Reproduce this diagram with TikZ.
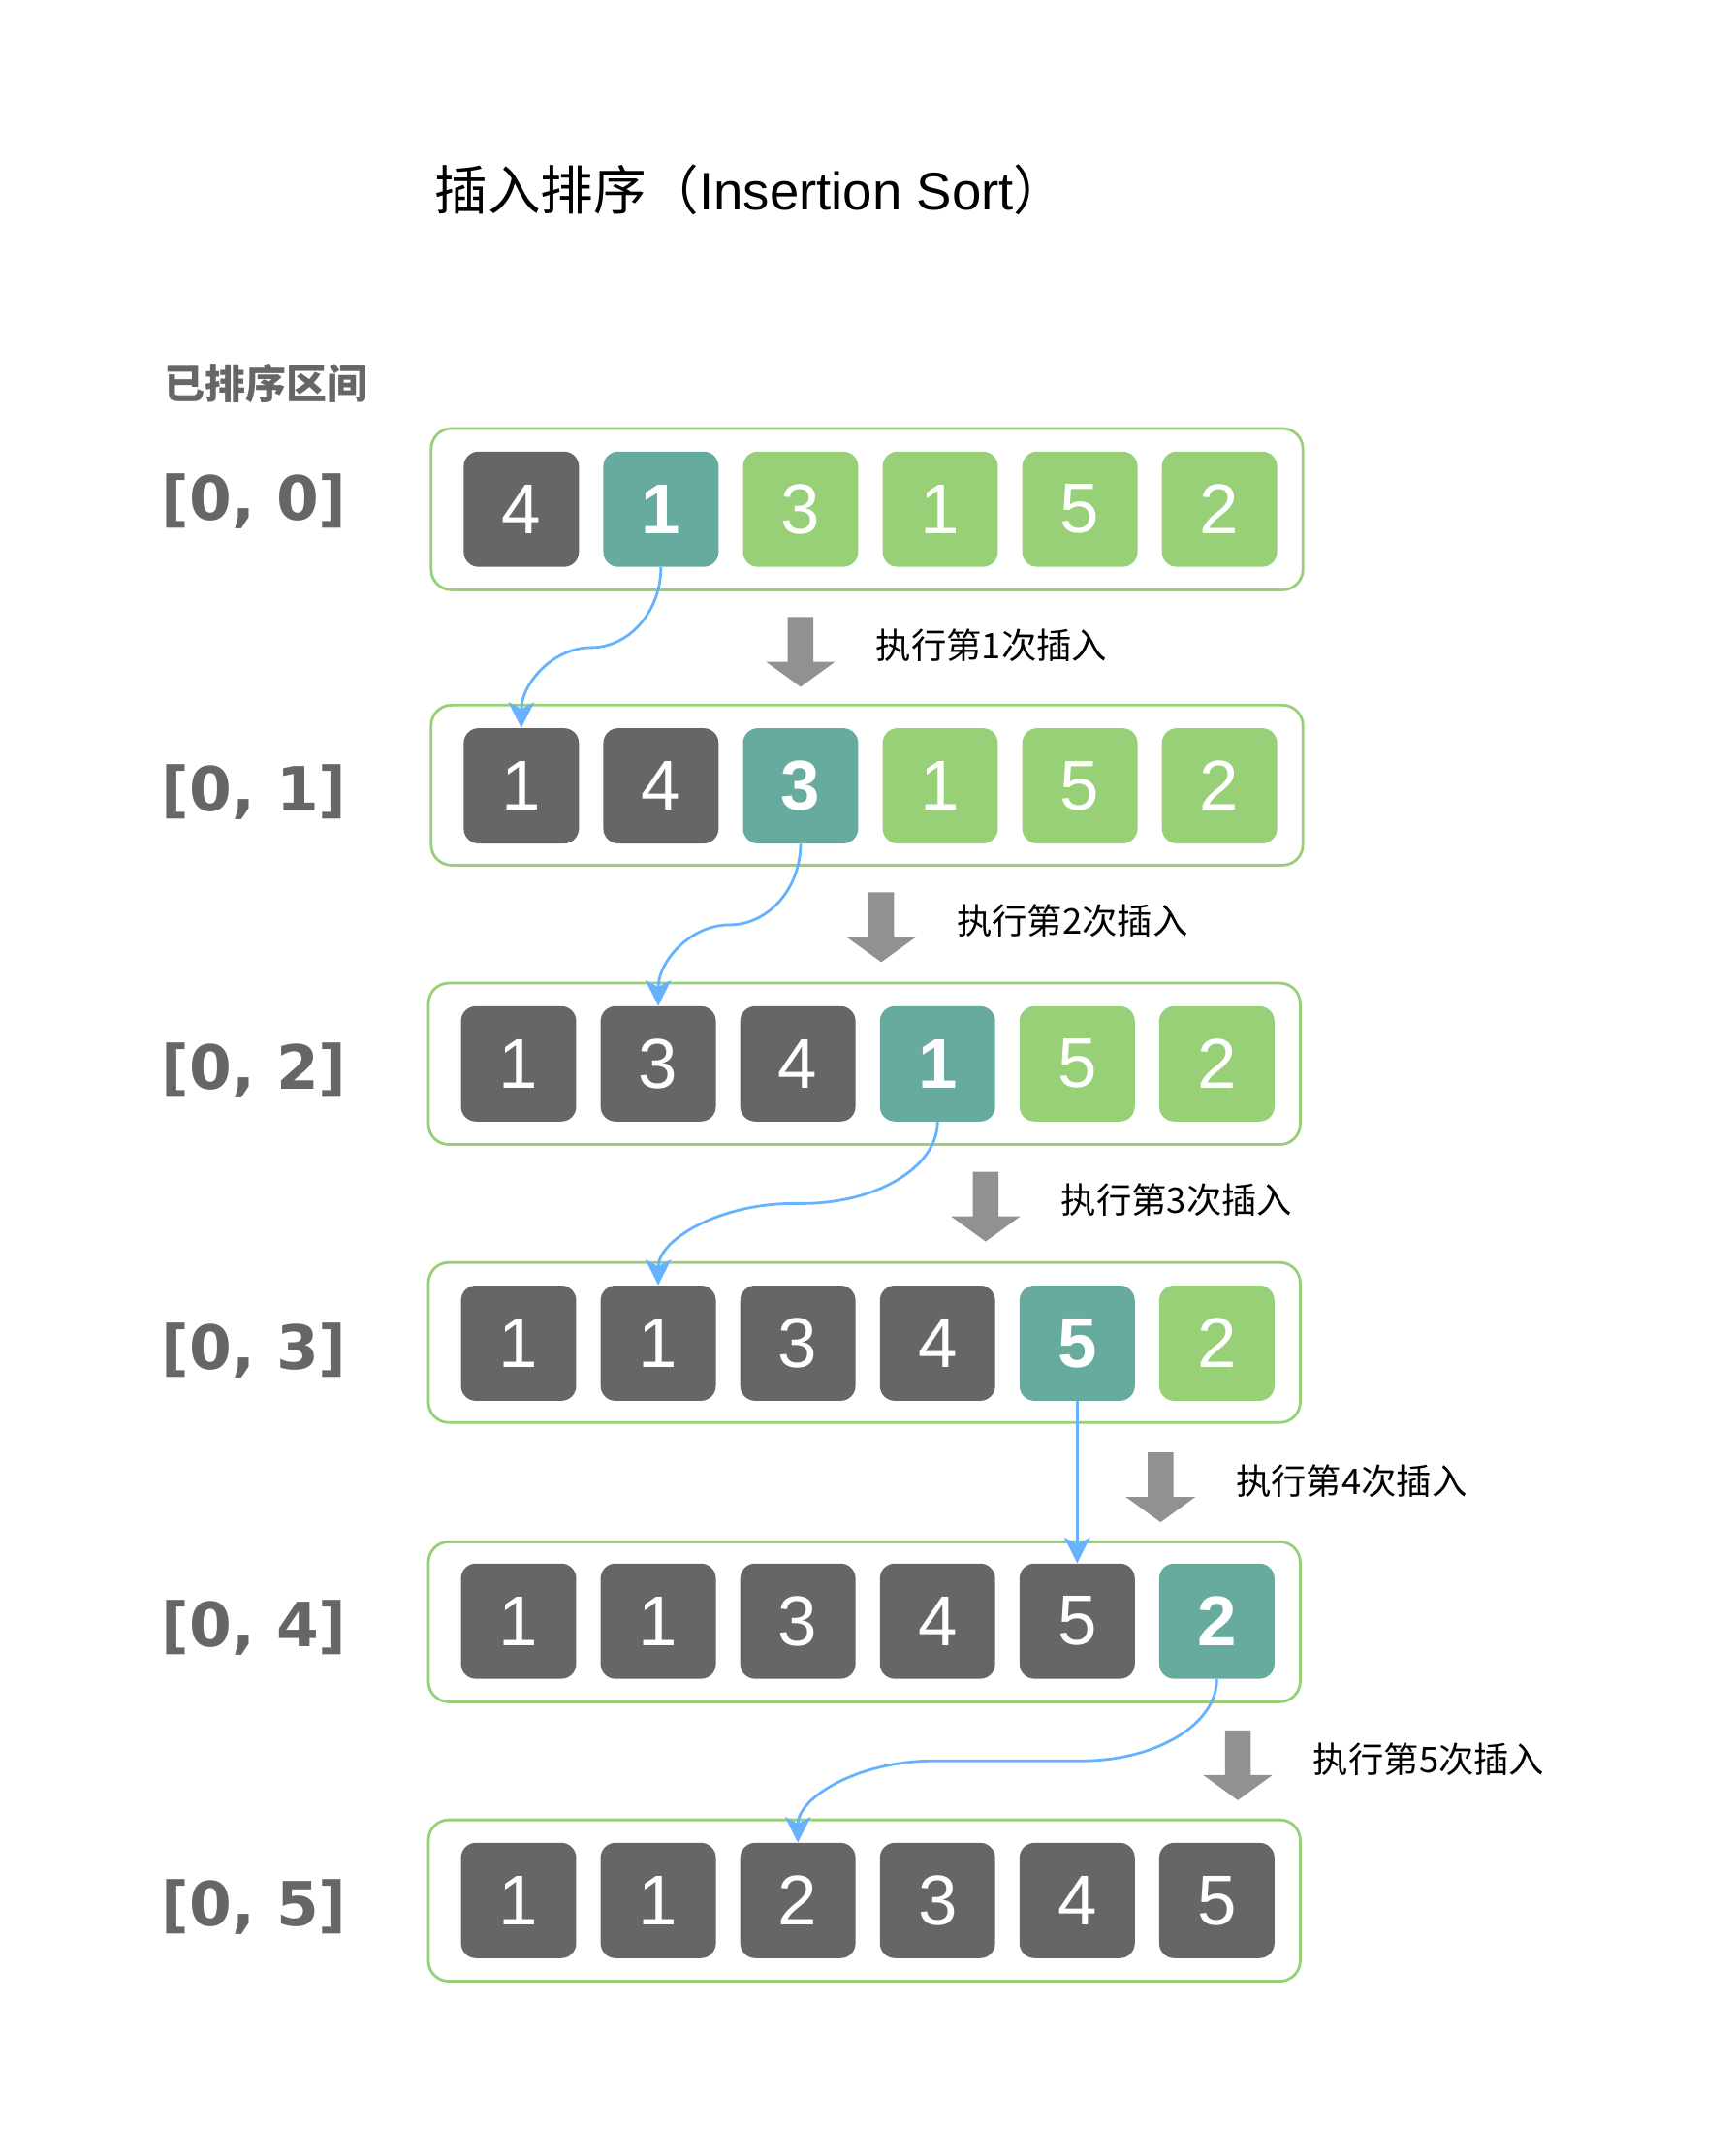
\documentclass[tikz,border=0pt]{standalone}
\usepackage{fontspec}
\setmainfont{Liberation Sans}
\newfontfamily\cjk{Noto Sans CJK SC}
\newfontfamily\dv{DejaVu Sans}
\usetikzlibrary{arrows.meta}
\definecolor{cdark}{HTML}{666666}
\definecolor{cteal}{HTML}{67AB9F}
\definecolor{cgreen}{HTML}{97D077}
\definecolor{cblue}{HTML}{66B2FF}
\definecolor{cgray}{HTML}{919191}
\definecolor{clabel}{HTML}{666666}
\tikzset{
  cell/.style={minimum width=85pt, minimum height=85pt, inner sep=0pt, rounded corners=11pt, text=white, font=\fontsize{52}{52}\selectfont},
  dk/.style={cell, fill=cdark},
  tl/.style={cell, fill=cteal, font=\fontsize{52}{52}\selectfont\bfseries},
  gr/.style={cell, fill=cgreen},
  frame/.style={draw=cgreen, line width=2pt, rounded corners=15pt, inner sep=0pt, minimum width=643pt},
  rowlbl/.style={anchor=base west, inner sep=0pt, text=clabel, font=\dv\bfseries\fontsize{45}{45}\selectfont},
  steplbl/.style={anchor=west, inner sep=0pt, font=\cjk\fontsize{26}{26}\selectfont},
  link/.style={draw=cblue, line width=2pt, -{Stealth[length=19pt,width=19pt,inset=5pt]}},
  garrow/.pic={\fill[cgray] (-9.5,0) -- (9.5,0) -- (9.5,33) -- (25.5,33) -- (0,51.5) -- (-25.5,33) -- (-9.5,33) -- cycle;}
}
\begin{document}
\begin{tikzpicture}[x=1pt,y=-1pt]
\useasboundingbox (0,0) rectangle (1280,1570);

% title and header
\node[anchor=base west, inner sep=0pt, font=\fontsize{39}{39}\selectfont] (title) at (320.5,155) {{\cjk 插入排序（}Insertion Sort{\cjk ）}};
\node[anchor=base west, inner sep=0pt, text=clabel, font=\cjk\bfseries\fontsize{30}{30}\selectfont] (sorted) at (121,294) {已排序区间};

% containers
\node[frame, minimum height=119pt] (c0) at (639.5,375.5) {};
\node[frame, minimum height=118pt] (c1) at (639.5,579) {};
\node[frame, minimum height=119pt] (c2) at (637.5,784.5) {};
\node[frame, minimum height=118pt] (c3) at (637.5,990) {};
\node[frame, minimum height=118pt] (c4) at (637.5,1196) {};
\node[frame, minimum height=119pt] (c5) at (637.5,1401.5) {};

% row labels
\node[rowlbl] (l0) at (119,383.5) {[0, 0]};
\node[rowlbl] (l1) at (119,598) {[0, 1]};
\node[rowlbl] (l2) at (119,803.5) {[0, 2]};
\node[rowlbl] (l3) at (119,1009.5) {[0, 3]};
\node[rowlbl] (l4) at (119,1214.5) {[0, 4]};
\node[rowlbl] (l5) at (119,1420.5) {[0, 5]};

% row 0
\node[dk] (b00) at (384.5,375.5) {4};
\node[tl] (b01) at (487.5,375.5) {1};
\node[gr] (b02) at (590.5,375.5) {3};
\node[gr] (b03) at (693.5,375.5) {1};
\node[gr] (b04) at (796.5,375.5) {5};
\node[gr] (b05) at (899.5,375.5) {2};
% row 1
\node[dk] (b10) at (384.5,579.5) {1};
\node[dk] (b11) at (487.5,579.5) {4};
\node[tl] (b12) at (590.5,579.5) {3};
\node[gr] (b13) at (693.5,579.5) {1};
\node[gr] (b14) at (796.5,579.5) {5};
\node[gr] (b15) at (899.5,579.5) {2};
% row 2
\node[dk] (b20) at (382.5,784.5) {1};
\node[dk] (b21) at (485.5,784.5) {3};
\node[dk] (b22) at (588.5,784.5) {4};
\node[tl] (b23) at (691.5,784.5) {1};
\node[gr] (b24) at (794.5,784.5) {5};
\node[gr] (b25) at (897.5,784.5) {2};
% row 3
\node[dk] (b30) at (382.5,990.5) {1};
\node[dk] (b31) at (485.5,990.5) {1};
\node[dk] (b32) at (588.5,990.5) {3};
\node[dk] (b33) at (691.5,990.5) {4};
\node[tl] (b34) at (794.5,990.5) {5};
\node[gr] (b35) at (897.5,990.5) {2};
% row 4
\node[dk] (b40) at (382.5,1195.5) {1};
\node[dk] (b41) at (485.5,1195.5) {1};
\node[dk] (b42) at (588.5,1195.5) {3};
\node[dk] (b43) at (691.5,1195.5) {4};
\node[dk] (b44) at (794.5,1195.5) {5};
\node[tl] (b45) at (897.5,1195.5) {2};
% row 5
\node[dk] (b50) at (382.5,1401.5) {1};
\node[dk] (b51) at (485.5,1401.5) {1};
\node[dk] (b52) at (588.5,1401.5) {2};
\node[dk] (b53) at (691.5,1401.5) {3};
\node[dk] (b54) at (794.5,1401.5) {4};
\node[dk] (b55) at (897.5,1401.5) {5};

% gray step arrows and labels
\pic at (590.5,455) {garrow};
\node[steplbl] (s1) at (646,476) {执行第1次插入};
\pic at (650,658) {garrow};
\node[steplbl] (s2) at (705.5,679) {执行第2次插入};
\pic at (727,864) {garrow};
\node[steplbl] (s3) at (782.5,885) {执行第3次插入};
\pic at (856,1071) {garrow};
\node[steplbl] (s4) at (911.5,1092) {执行第4次插入};
\pic at (913,1276) {garrow};
\node[steplbl] (s5) at (968.5,1297) {执行第5次插入};

% blue insertion links
\draw[link] (b01.south) .. controls (487.5,450.7) and (464.3,477.5) .. (436,477.5)
  .. controls (407.7,477.5) and (384.5,504.3) .. (b10.north);
\draw[link] (b12.south) .. controls (590.5,655) and (566.9,682) .. (538,682)
  .. controls (509.1,682) and (485.5,709) .. (b21.north);
\draw[link] (b23.south) .. controls (691.5,860.8) and (646.5,887.5) .. (591.5,887.5)
  -- (585.5,887.5) .. controls (530.5,887.5) and (485.5,914.2) .. (b31.north);
\draw[link] (b34.south) -- (b44.north);
\draw[link] (b45.south) .. controls (897.5,1271.8) and (852.5,1298.5) .. (797.5,1298.5)
  -- (688.5,1298.5) .. controls (633.5,1298.5) and (588.5,1325.2) .. (b52.north);
\end{tikzpicture}
\end{document}
